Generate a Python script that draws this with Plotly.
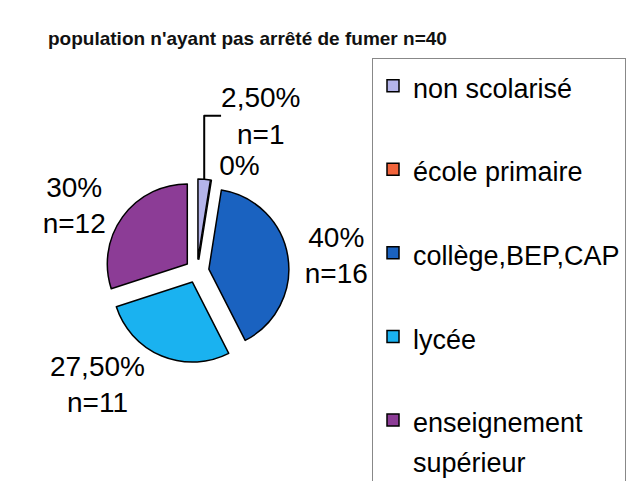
import plotly.graph_objects as go

categories = ["non scolarisé", "école primaire", "collège,BEP,CAP", "lycée", "enseignement supérieur"]
legend_labels = ["non scolarisé", "école primaire", "collège,BEP,CAP", "lycée", "enseignement<br>supérieur"]
counts = [1, 0, 16, 11, 12]
colors = ["#B4B4EA", "#F2643C", "#1A62C0", "#1AB2F0", "#8C3C96"]

total = sum(counts)


def fmt_pct(v):
    p = v / total * 100
    if abs(p - round(p)) < 1e-9:
        s = f"{int(round(p))}%"
    else:
        s = f"{p:.2f}%".replace(".", ",")
    return s


texts = []
for v in counts:
    if v == 0:
        texts.append(fmt_pct(v))
    else:
        texts.append(f"{fmt_pct(v)}<br>n={v}")

LEG_FS = 31
LEG_TXT_FS = 27
TXT_FS = 28
leg_names = []
for lab in legend_labels:
    parts = lab.split("<br>")
    if len(parts) == 1:
        parts.append(" ")
    leg_names.append("<br>".join(f"<span style='font-size:{LEG_TXT_FS}px'>{p}</span>" for p in parts))

cx, cy, half = 189, 263, 92
fig = go.Figure(
    go.Pie(
        labels=leg_names,
        values=counts,
        text=texts,
        texttemplate="%{text}",
        textposition="outside",
        textfont=dict(size=TXT_FS, color="black", family="Liberation Sans, Arial, sans-serif"),
        marker=dict(colors=colors, line=dict(color="black", width=1.5)),
        pull=[0.15] * len(counts),
        sort=False,
        direction="clockwise",
        rotation=0,
        hole=0,
        domain=dict(x=[(cx - half) / 634, (cx + half) / 634],
                    y=[1 - (cy + half) / 481, 1 - (cy - half) / 481]),
        automargin=False,
        showlegend=True,
    )
)

fig.update_layout(
    width=634,
    height=481,
    margin=dict(l=0, r=0, t=0, b=0),
    paper_bgcolor="white",
    plot_bgcolor="white",
    font=dict(family="Liberation Sans, Arial, sans-serif", color="black"),
    title=dict(
        text="<b>population n'ayant pas arrêté de fumer n=40</b>",
        font=dict(size=19, color="#111111"),
        x=40 / 634,
        xanchor="left",
        xref="container",
        y=1 - 30 / 481,
        yanchor="middle",
        yref="container",
    ),
    legend=dict(
        x=364 / 634,
        xanchor="left",
        y=1 - 53 / 481,
        yanchor="top",
        bordercolor="#888888",
        borderwidth=1,
        font=dict(size=LEG_FS, color="black"),
        valign="top",
        traceorder="normal",
    ),
)

fig.write_html("out.html")
